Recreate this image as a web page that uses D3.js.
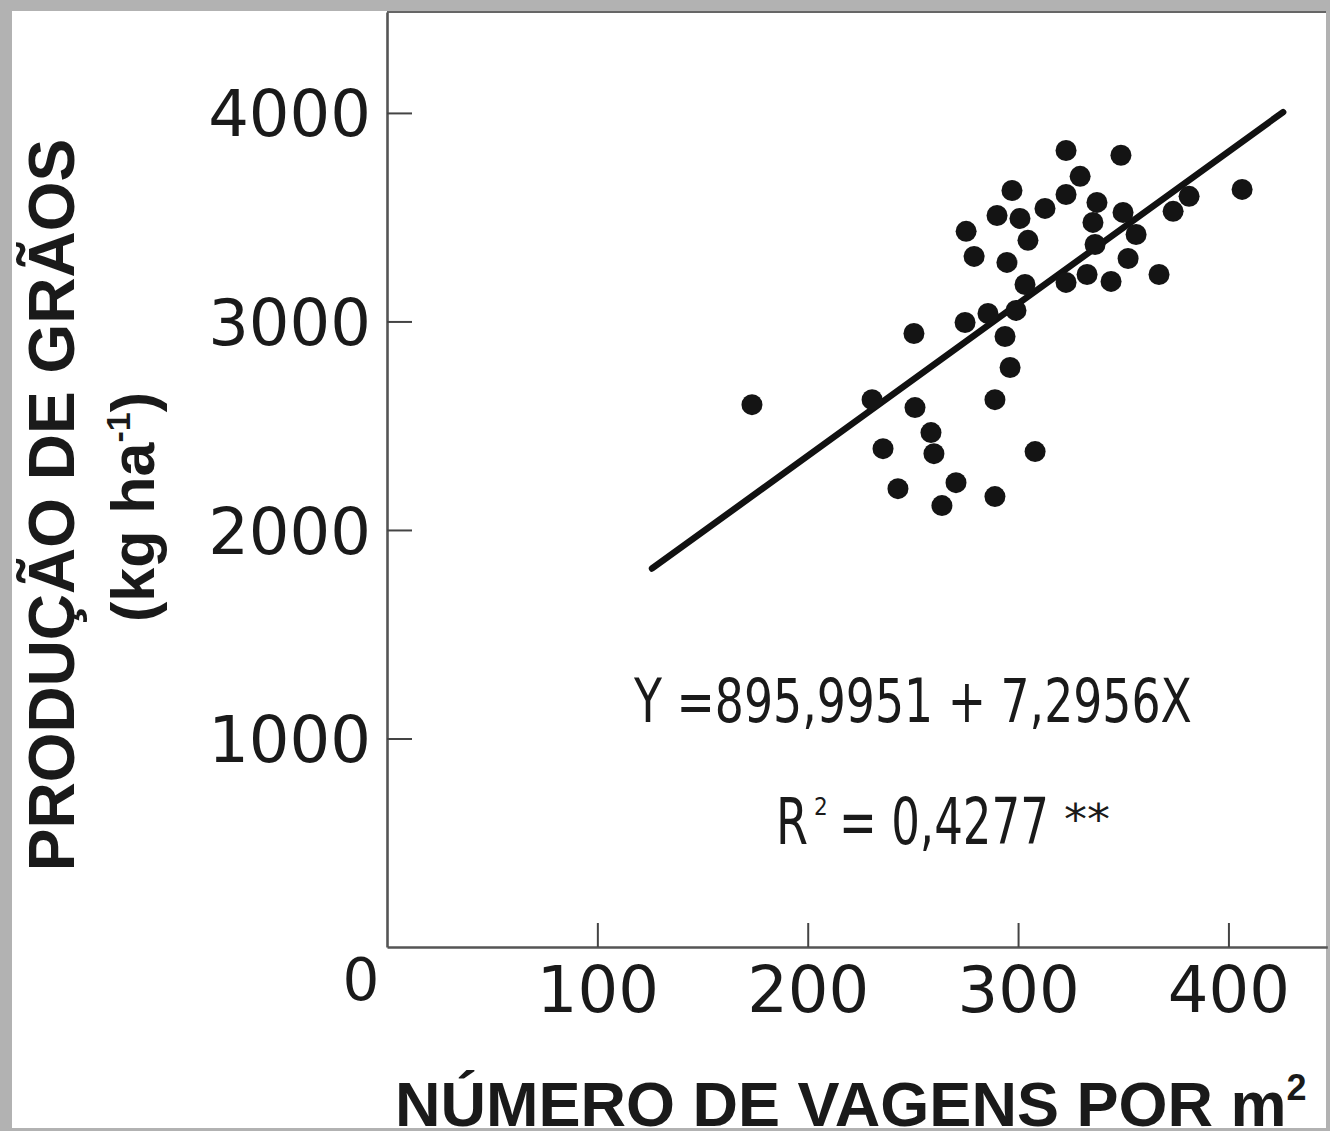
<!DOCTYPE html>
<html>
<head>
<meta charset="utf-8">
<script src="https://cdn.jsdelivr.net/npm/d3@7"></script>
<style>
  html, body { margin: 0; padding: 0; background: #b2b2b2; }
  svg { display: block; }
</style>
</head>
<body>
<svg id="chart" width="1330" height="1131"></svg>
<script>
// Pods per m² (x) and grain yield in kg/ha (y) for each plot
const vagens = [173.5, 230.6, 250.5, 251.0, 235.8, 258.6, 260.0, 242.9, 270.5, 263.8,
                289.0, 289.0, 296.2, 293.8, 297.1, 290.0, 300.9, 275.3, 279.1, 294.7,
                303.3, 274.8, 285.7, 299.0, 322.8, 348.9, 329.5, 322.8, 312.8, 337.5,
                304.7, 335.6, 349.9, 381.3, 373.7, 406.5, 356.1, 336.6, 352.3, 322.8,
                332.8, 344.2, 367.0, 308.1];
const producao = [2601, 2625, 2942, 2587, 2390, 2467, 2366, 2198, 2227, 2117,
                  2160, 2625, 2779, 2928, 3628, 3508, 3494, 3432, 3312, 3283,
                  3177, 2995, 3038, 3053, 3820, 3797, 3696, 3609, 3542, 3571,
                  3389, 3475, 3523, 3600, 3528, 3633, 3417, 3369, 3302, 3187,
                  3225, 3192, 3225, 2376];

// Fitted regression Y = a + bX and the X span it is drawn over
const intercept = 895.9951;
const slope = 7.2956;
const fitRange = [126, 426];

const xTicks = [100, 200, 300, 400];
const yTicks = [1000, 2000, 3000, 4000];

const svg = d3.select("#chart");

// white sheet
svg.append("rect").attr("x", 12).attr("y", 11).attr("width", 1314).attr("height", 1117)
  .attr("fill", "#ffffff");

const x = d3.scaleLinear().domain([0, 447]).range([387, 1327.3]);
const y = d3.scaleLinear().domain([0, 4484]).range([947, 12]);

// top border of the plot frame
svg.append("line")
  .attr("x1", x(0)).attr("x2", 1326).attr("y1", y(4484)).attr("y2", y(4484))
  .attr("stroke", "#666").attr("stroke-width", 2);

const tickFont = "'DejaVu Sans', sans-serif";
const fmt = d3.format("d");

const xAxis = svg.append("g")
  .attr("transform", `translate(0,${y(0)})`)
  .call(d3.axisBottom(x).tickValues(xTicks).tickFormat(fmt)
    .tickSizeInner(-24).tickSizeOuter(0).tickPadding(18));
const yAxis = svg.append("g")
  .attr("transform", `translate(${x(0)},0)`)
  .call(d3.axisLeft(y).tickValues(yTicks).tickFormat(fmt)
    .tickSizeInner(-25).tickSizeOuter(0).tickPadding(16));

[xAxis, yAxis].forEach(g => {
  g.select(".domain").attr("stroke", "#555").attr("stroke-width", 2.6);
  g.selectAll(".tick line").attr("stroke", "#444").attr("stroke-width", 2);
  g.selectAll(".tick text")
    .attr("fill", "#1a1a1a")
    .style("font-family", tickFont)
    .style("font-size", "64px");
});
xAxis.selectAll(".tick text").attr("dy", "0.73em");
yAxis.selectAll(".tick text").attr("dy", "0.36em");

// origin label
svg.append("text")
  .attr("x", 361).attr("y", 1000)
  .attr("text-anchor", "middle")
  .attr("fill", "#1a1a1a")
  .style("font-family", tickFont).style("font-size", "58px")
  .text("0");

// regression line
const fit = d3.line().x(d => x(d)).y(d => y(intercept + slope * d));
svg.append("path")
  .datum(fitRange)
  .attr("d", fit)
  .attr("fill", "none")
  .attr("stroke", "#111")
  .attr("stroke-width", 6.5)
  .attr("stroke-linecap", "round");

// observations
svg.append("g").selectAll("circle")
  .data(d3.range(vagens.length))
  .join("circle")
  .attr("cx", i => x(vagens[i]))
  .attr("cy", i => y(producao[i]))
  .attr("r", 10.5)
  .attr("fill", "#141414");

// axis titles
const titleFont = "'Liberation Sans', Arial, sans-serif";
svg.append("text")
  .attr("transform", "translate(74,505) rotate(-90)")
  .attr("text-anchor", "middle")
  .attr("fill", "#1a1a1a")
  .style("font-family", titleFont).style("font-weight", "bold").style("font-size", "64px")
  .text("PRODUÇÃO DE GRÃOS");

const yUnit = svg.append("text")
  .attr("transform", "translate(154,507) rotate(-90)")
  .attr("text-anchor", "middle")
  .attr("fill", "#1a1a1a")
  .style("font-family", titleFont).style("font-weight", "bold").style("font-size", "61px");
yUnit.append("tspan").text("(kg ha");
yUnit.append("tspan").attr("dy", -24).style("font-size", "34px").text("-1");
yUnit.append("tspan").attr("dy", 24).text(")");

const xTitle = svg.append("text")
  .attr("x", 395).attr("y", 1126)
  .attr("fill", "#1a1a1a")
  .style("font-family", titleFont).style("font-weight", "bold").style("font-size", "63px");
xTitle.append("tspan").text("NÚMERO DE VAGENS POR m");
xTitle.append("tspan").attr("dy", -26).style("font-size", "36px").text("2");

// equation and coefficient of determination, set in a condensed face:
// each piece is squeezed horizontally to the width it occupies
const eqFont = "'Liberation Sans Narrow', 'DejaVu Sans Condensed', sans-serif";
function condensed(str, px, left, baseline, width) {
  const t = svg.append("text")
    .attr("fill", "#1a1a1a")
    .style("font-family", eqFont).style("font-size", px + "px")
    .text(str);
  const natural = t.node().getComputedTextLength();
  const sx = width ? width / natural : 1;
  t.attr("transform", `translate(${left},${baseline}) scale(${sx},1)`);
  return t;
}

condensed("Y =895,9951 + 7,2956X", 61, 634, 722, 558);
condensed("R", 64, 776, 844, 32);
condensed("2", 24, 814, 815, 0);
condensed("= 0,4277", 64, 839, 844, 210);
condensed("**", 42, 1064, 834, 46);
</script>
</body>
</html>
